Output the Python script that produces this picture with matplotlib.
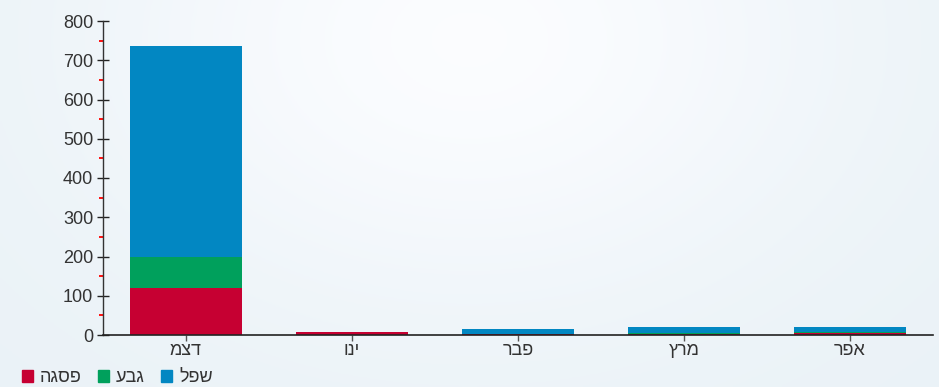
import matplotlib
matplotlib.use("Agg")
import numpy as np
import matplotlib.pyplot as plt
from matplotlib.colors import to_rgb
from matplotlib.patches import Patch
from matplotlib.ticker import MultipleLocator

plt.rcParams["font.family"] = ["Liberation Sans", "DejaVu Sans"]

# Months (logical Hebrew order) and consumption per tariff band
months = ["דצמ", "ינו", "פבר", "מרץ", "אפר"]
peak = [120, 8, 2, 3, 5]        # פסגה
shoulder = [79, 0, 1, 1, 2]     # גבע
offpeak = [537, 0, 12, 16, 14]  # שפל

series_names = ["פסגה", "גבע", "שפל"]
colors = ["#c60032", "#00a05c", "#0287c2"]


def rtl(s):
    # matplotlib has no bidi support, so flip the Hebrew for display
    return s[::-1]


fig = plt.figure(figsize=(9.39, 3.87), dpi=100, facecolor="#edf4f8")

# soft light background like the page behind the chart
bg = fig.add_axes([0, 0, 1, 1], zorder=-10)
gx, gy = np.meshgrid(np.linspace(0, 1, 300), np.linspace(0, 1, 150))
glow = np.exp(-(((gx - 0.5) / 0.4) ** 2 + ((gy - 0.1) / 0.7) ** 2))
base = np.array(to_rgb("#eaf2f7"))
img = base + glow[..., None] * (np.array([0.985, 0.99, 1.0]) - base)
bg.imshow(img, aspect="auto", extent=[0, 1, 0, 1])
bg.axis("off")

ax = fig.add_axes([103 / 939, 52 / 387, 830 / 939, 314 / 387])
ax.set_facecolor("none")

x = range(len(months))
width = 0.675
bottoms = [0] * len(months)
for vals, color in zip([peak, shoulder, offpeak], colors):
    ax.bar(x, vals, width, bottom=bottoms, color=color, linewidth=0)
    bottoms = [b + v for b, v in zip(bottoms, vals)]

ax.set_xlim(-0.5, 4.5)
ax.set_ylim(0, 800)

ax.yaxis.set_major_locator(MultipleLocator(100))
ax.yaxis.set_minor_locator(MultipleLocator(50))
ax.tick_params(axis="y", which="major", direction="inout", length=8,
               width=1, color="#222222", labelsize=13, labelcolor="#333333", pad=3)
ax.tick_params(axis="y", which="minor", direction="out", length=3,
               width=1.4, color="#ff1010")

ax.set_xticks(list(x))
ax.set_xticklabels([rtl(m) for m in months])
ax.tick_params(axis="x", direction="out", length=4, width=1,
               color="#555555", labelsize=13, labelcolor="#333333", pad=1)

for side in ["top", "right"]:
    ax.spines[side].set_visible(False)
ax.spines["left"].set_color("#333333")
ax.spines["bottom"].set_color("#222222")
ax.spines["left"].set_linewidth(1)
ax.spines["bottom"].set_linewidth(1.2)

handles = [Patch(facecolor=c, edgecolor=c) for c in colors]
fig.legend(handles, [rtl(n) for n in series_names], loc="lower left",
           bbox_to_anchor=(0.006, -0.04), ncol=3, frameon=False,
           fontsize=13, handlelength=0.6, handleheight=0.6,
           handletextpad=0.4, columnspacing=0.9, labelcolor="#333333")

fig.savefig("out.png", dpi=100, facecolor=fig.get_facecolor())
